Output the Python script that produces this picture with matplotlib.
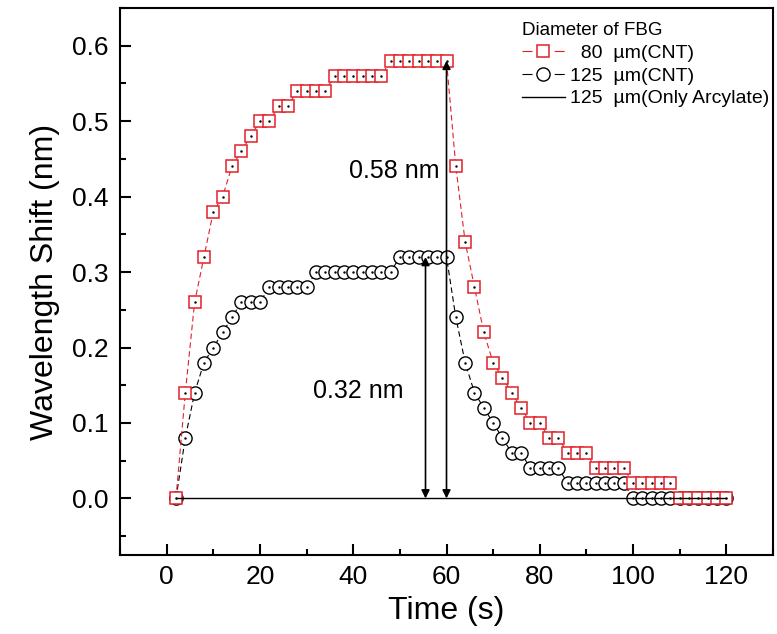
import matplotlib
matplotlib.use("Agg")
import matplotlib.pyplot as plt
from matplotlib.lines import Line2D
from matplotlib.ticker import MultipleLocator

plt.rcParams['font.family'] = ['Liberation Sans', 'DejaVu Sans']

# data (time in s, shift in nm)
time = [2, 4, 6, 8, 10, 12, 14, 16, 18, 20, 22, 24, 26, 28, 30, 32, 34, 36, 38, 40,
        42, 44, 46, 48, 50, 52, 54, 56, 58, 60, 62, 64, 66, 68, 70, 72, 74, 76, 78, 80,
        82, 84, 86, 88, 90, 92, 94, 96, 98, 100, 102, 104, 106, 108, 110, 112, 114, 116, 118, 120]

shift_80_cnt = [0.00, 0.14, 0.26, 0.32, 0.38, 0.40, 0.44, 0.46, 0.48, 0.50,
                0.50, 0.52, 0.52, 0.54, 0.54, 0.54, 0.54, 0.56, 0.56, 0.56,
                0.56, 0.56, 0.56, 0.58, 0.58, 0.58, 0.58, 0.58, 0.58, 0.58,
                0.44, 0.34, 0.28, 0.22, 0.18, 0.16, 0.14, 0.12, 0.10, 0.10,
                0.08, 0.08, 0.06, 0.06, 0.06, 0.04, 0.04, 0.04, 0.04, 0.02,
                0.02, 0.02, 0.02, 0.02, 0.00, 0.00, 0.00, 0.00, 0.00, 0.00]

shift_125_cnt = [0.00, 0.08, 0.14, 0.18, 0.20, 0.22, 0.24, 0.26, 0.26, 0.26,
                 0.28, 0.28, 0.28, 0.28, 0.28, 0.30, 0.30, 0.30, 0.30, 0.30,
                 0.30, 0.30, 0.30, 0.30, 0.32, 0.32, 0.32, 0.32, 0.32, 0.32,
                 0.24, 0.18, 0.14, 0.12, 0.10, 0.08, 0.06, 0.06, 0.04, 0.04,
                 0.04, 0.04, 0.02, 0.02, 0.02, 0.02, 0.02, 0.02, 0.02, 0.00,
                 0.00, 0.00, 0.00, 0.00, 0.00, 0.00, 0.00, 0.00, 0.00, 0.00]

time_acrylate = [2, 120]
shift_acrylate = [0.0, 0.0]

labels = ['  80  \u00b5m(CNT)', '125  \u00b5m(CNT)', '125  \u00b5m(Only Arcylate)']
red = '#e3202a'

fig = plt.figure(figsize=(7.77, 6.34), dpi=100)
ax = fig.add_axes([120 / 777, 79 / 634, 653 / 777, 547 / 634])

ax.plot(time, shift_125_cnt, color='black', lw=0.8, dashes=(5, 3),
        marker='o', ms=9.5, mfc='white', mec='black', mew=1.0, zorder=2)
ax.plot(time, shift_125_cnt, ls='none', marker='.', ms=1.5, color='black', zorder=2.1)
ax.plot(time, shift_80_cnt, color=red, lw=0.8, dashes=(5, 3),
        marker='s', ms=8.3, mfc='white', mec=red, mew=1.1, zorder=3)
ax.plot(time, shift_80_cnt, ls='none', marker='.', ms=1.5, color='black', zorder=3.1)
ax.plot(time_acrylate, shift_acrylate, color='black', lw=1.0, zorder=4)

# double arrows showing the shift
for xa, ya in [(60, 0.58), (55.5, 0.32)]:
    ax.annotate('', xy=(xa, ya), xytext=(xa, 0.0),
                arrowprops=dict(arrowstyle='<|-|>', color='black', lw=1.2,
                                mutation_scale=12, shrinkA=0, shrinkB=0), zorder=5)
ax.text(48.8, 0.434, '0.58 nm', fontsize=18, ha='center', va='center')
ax.text(41, 0.143, '0.32 nm', fontsize=18, ha='center', va='center')

ax.set_xlim(-10, 130)
ax.set_ylim(-0.075, 0.65)
ax.xaxis.set_major_locator(MultipleLocator(20))
ax.xaxis.set_minor_locator(MultipleLocator(10))
ax.yaxis.set_major_locator(MultipleLocator(0.1))
ax.yaxis.set_minor_locator(MultipleLocator(0.05))
ax.tick_params(which='both', direction='in', width=1.5, top=False, right=False)
ax.tick_params(which='major', length=8, labelsize=19)
ax.tick_params(axis='x', which='major', pad=7)
ax.tick_params(axis='y', which='major', pad=8)
ax.tick_params(which='minor', length=4.5)
for sp in ax.spines.values():
    sp.set_linewidth(1.5)

ax.set_xlabel('Time (s)', fontsize=23, labelpad=5)
ax.set_ylabel('Wavelength Shift (nm)', fontsize=23, labelpad=9)

# legend handles: one dash on each side of the marker, like the original
h1 = Line2D([], [], color=red, lw=0.8, dashes=(9, 20), marker='s', ms=8.3,
            mfc='white', mec=red, mew=1.1)
h2 = Line2D([], [], color='black', lw=0.8, dashes=(9, 20), marker='o', ms=9.5,
            mfc='white', mec='black', mew=1.0)
h3 = Line2D([], [], color='black', lw=1.0)
leg = ax.legend([h1, h2, h3], labels, title='Diameter of FBG', frameon=False,
                loc='upper left', bbox_to_anchor=(515 / 777, 1 - 15 / 634),
                bbox_transform=fig.transFigure, borderpad=0.35, borderaxespad=0,
                fontsize=14, title_fontsize=13.5, handlelength=2.2,
                handletextpad=0.3, labelspacing=0.27, alignment='left')

fig.savefig('out.png', dpi=100)
